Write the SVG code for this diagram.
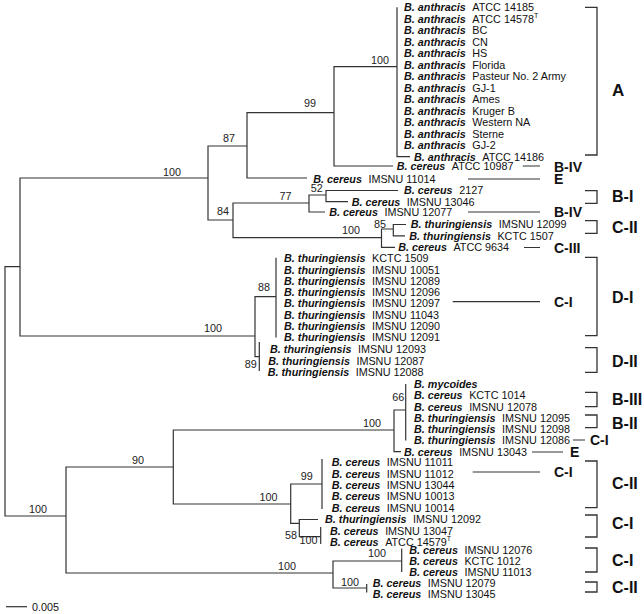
<svg xmlns="http://www.w3.org/2000/svg" width="644" height="614" viewBox="0 0 644 614">
<style>
.br{fill:none;stroke:#333;stroke-width:1.2}
.bk{fill:none;stroke:#333;stroke-width:1.3}
text{font-family:"Liberation Sans",Arial,sans-serif;fill:#111}
.lf{font-size:10.8px}
.sp{font-weight:bold;font-style:italic}
.bs{font-size:10.8px;text-anchor:middle;fill:#222}
.gm{font-size:14px;font-weight:bold}
.gr{font-size:16px;font-weight:bold}
.sup{font-size:7px}
</style>
<rect width="644" height="614" fill="#fff"/>
<g id="connectors" class="br">
<path d="M20,266.7H5V516H66"/>
<path d="M208,178H20V336H255"/>
<path d="M247,146H208V220H233"/>
<path d="M334,112.7H247V178H307"/>
<path d="M397,66.7H334V166H393"/>
<path d="M397,7.3V156.7H410"/>
<path d="M309,203H233V237.7H381.5"/>
<path d="M326,195H309V212H325"/>
<path d="M398,190.5H326V201.7H348"/>
<path d="M393.3,229H381.5V247.3H395"/>
<path d="M406,224.5H393.3V235.8H405"/>
<path d="M276,296.7H255V356.7H259.3"/>
<path d="M276,257.7V337.5"/>
<path d="M259.3,342V371"/>
<path d="M173.3,467H66V573H333"/>
<path d="M394,430H173.3V504H290.7"/>
<path d="M405.7,410H394V451.7H401"/>
<path d="M405.7,384V440.5"/>
<path d="M322,484H290.7V523.3H299.3"/>
<path d="M322,459V509"/>
<path d="M318,519.5H299.3V536.7H320.7"/>
<path d="M320.7,527V544"/>
<path d="M401.7,561H333V588H366.7"/>
<path d="M401.7,548.5V572"/>
<path d="M366.7,584V592.5"/>
<path d="M522.7,166H540M468,179H540M468,212H540M524,247.5H540M452.7,301.7H540M573,440H585M532,452H563M472.7,472H540"/>
<path d="M6,606.7H27"/>
</g>
<g id="brackets" class="bk">
<path d="M585,7.3H597V155H585"/>
<path d="M585,190.7H597V203.3H585"/>
<path d="M585,220.7H597V233.3H585"/>
<path d="M585,257.3H597V335.7H585"/>
<path d="M585,347.7H597V372.3H585"/>
<path d="M585,392.3H597V406.7H585"/>
<path d="M585,415H597V427.7H585"/>
<path d="M585,461H597V507.7H585"/>
<path d="M585,515H597V537H585"/>
<path d="M585,548H597V572H585"/>
<path d="M585,582H597V592H585"/>
</g>
<g id="bootstrap">
<text class="bs" x="380" y="64.4">100</text>
<text class="bs" x="310" y="107">99</text>
<text class="bs" x="229" y="142">87</text>
<text class="bs" x="172" y="176">100</text>
<text class="bs" x="223" y="215">84</text>
<text class="bs" x="285.5" y="200.2">77</text>
<text class="bs" x="316.8" y="192">52</text>
<text class="bs" x="380" y="227.6">85</text>
<text class="bs" x="351" y="234">100</text>
<text class="bs" x="264" y="291">88</text>
<text class="bs" x="213" y="332">100</text>
<text class="bs" x="250.7" y="368">89</text>
<text class="bs" x="398.3" y="401.3">66</text>
<text class="bs" x="372" y="426.9">100</text>
<text class="bs" x="138" y="464">90</text>
<text class="bs" x="268.5" y="500.9">100</text>
<text class="bs" x="306.7" y="480.2">99</text>
<text class="bs" x="291" y="538.9">58</text>
<text class="bs" x="308.5" y="544.2">100</text>
<text class="bs" x="38" y="513">100</text>
<text class="bs" x="287" y="569.6">100</text>
<text class="bs" x="377" y="556.9">100</text>
<text class="bs" x="350" y="585.9">100</text>
<text class="lf" x="32" y="610.6">0.005</text>
</g>
<g id="leaf-ba-14185"><text class="lf" x="404" y="11.2"><tspan class="sp">B. anthracis</tspan><tspan dx="6.5">ATCC 14185</tspan></text></g>
<g id="leaf-ba-14578"><text class="lf" x="404" y="22.7"><tspan class="sp">B. anthracis</tspan><tspan dx="6.5">ATCC 14578</tspan><tspan class="sup" dy="-4.5">T</tspan></text></g>
<g id="leaf-ba-bc"><text class="lf" x="404" y="34.2"><tspan class="sp">B. anthracis</tspan><tspan dx="6.5">BC</tspan></text></g>
<g id="leaf-ba-cn"><text class="lf" x="404" y="45.7"><tspan class="sp">B. anthracis</tspan><tspan dx="6.5">CN</tspan></text></g>
<g id="leaf-ba-hs"><text class="lf" x="404" y="57.2"><tspan class="sp">B. anthracis</tspan><tspan dx="6.5">HS</tspan></text></g>
<g id="leaf-ba-florida"><text class="lf" x="404" y="68.7"><tspan class="sp">B. anthracis</tspan><tspan dx="6.5">Florida</tspan></text></g>
<g id="leaf-ba-pasteur"><text class="lf" x="404" y="80.1"><tspan class="sp">B. anthracis</tspan><tspan dx="6.5">Pasteur No. 2 Army</tspan></text></g>
<g id="leaf-ba-gj1"><text class="lf" x="404" y="91.6"><tspan class="sp">B. anthracis</tspan><tspan dx="6.5">GJ-1</tspan></text></g>
<g id="leaf-ba-ames"><text class="lf" x="404" y="103.1"><tspan class="sp">B. anthracis</tspan><tspan dx="6.5">Ames</tspan></text></g>
<g id="leaf-ba-kruger"><text class="lf" x="404" y="114.6"><tspan class="sp">B. anthracis</tspan><tspan dx="6.5">Kruger B</tspan></text></g>
<g id="leaf-ba-western"><text class="lf" x="404" y="126.1"><tspan class="sp">B. anthracis</tspan><tspan dx="6.5">Western NA</tspan></text></g>
<g id="leaf-ba-sterne"><text class="lf" x="404" y="137.6"><tspan class="sp">B. anthracis</tspan><tspan dx="6.5">Sterne</tspan></text></g>
<g id="leaf-ba-gj2"><text class="lf" x="404" y="149.1"><tspan class="sp">B. anthracis</tspan><tspan dx="6.5">GJ-2</tspan></text></g>
<g id="leaf-ba-14186"><text class="lf" x="414" y="160.6"><tspan class="sp">B. anthracis</tspan><tspan dx="6.5">ATCC 14186</tspan></text></g>
<g id="leaf-bc-10987"><text class="lf" x="396.7" y="169.9"><tspan class="sp">B. cereus</tspan><tspan dx="6.5">ATCC 10987</tspan></text></g>
<g id="leaf-bc-11014"><text class="lf" x="313.3" y="182.9"><tspan class="sp">B. cereus</tspan><tspan dx="6.5">IMSNU 11014</tspan></text></g>
<g id="leaf-bc-2127"><text class="lf" x="404" y="194.4"><tspan class="sp">B. cereus</tspan><tspan dx="6.5">2127</tspan></text></g>
<g id="leaf-bc-13046"><text class="lf" x="351.7" y="205.6"><tspan class="sp">B. cereus</tspan><tspan dx="6.5">IMSNU 13046</tspan></text></g>
<g id="leaf-bc-12077"><text class="lf" x="329.3" y="215.9"><tspan class="sp">B. cereus</tspan><tspan dx="6.5">IMSNU 12077</tspan></text></g>
<g id="leaf-bt-12099"><text class="lf" x="410.7" y="228.4"><tspan class="sp">B. thuringiensis</tspan><tspan dx="6.5">IMSNU 12099</tspan></text></g>
<g id="leaf-bt-1507"><text class="lf" x="409.3" y="239.7"><tspan class="sp">B. thuringiensis</tspan><tspan dx="6.5">KCTC 1507</tspan></text></g>
<g id="leaf-bc-9634"><text class="lf" x="398.3" y="251.2"><tspan class="sp">B. cereus</tspan><tspan dx="6.5">ATCC 9634</tspan></text></g>
<g id="leaf-bt-1509"><text class="lf" x="284" y="262.4"><tspan class="sp">B. thuringiensis</tspan><tspan dx="6.5">KCTC 1509</tspan></text></g>
<g id="leaf-bt-10051"><text class="lf" x="284" y="273.65"><tspan class="sp">B. thuringiensis</tspan><tspan dx="6.5">IMSNU 10051</tspan></text></g>
<g id="leaf-bt-12089"><text class="lf" x="284" y="284.9"><tspan class="sp">B. thuringiensis</tspan><tspan dx="6.5">IMSNU 12089</tspan></text></g>
<g id="leaf-bt-12096"><text class="lf" x="284" y="296.15"><tspan class="sp">B. thuringiensis</tspan><tspan dx="6.5">IMSNU 12096</tspan></text></g>
<g id="leaf-bt-12097"><text class="lf" x="284" y="307.4"><tspan class="sp">B. thuringiensis</tspan><tspan dx="6.5">IMSNU 12097</tspan></text></g>
<g id="leaf-bt-11043"><text class="lf" x="284" y="318.65"><tspan class="sp">B. thuringiensis</tspan><tspan dx="6.5">IMSNU 11043</tspan></text></g>
<g id="leaf-bt-12090"><text class="lf" x="284" y="329.9"><tspan class="sp">B. thuringiensis</tspan><tspan dx="6.5">IMSNU 12090</tspan></text></g>
<g id="leaf-bt-12091"><text class="lf" x="284" y="341.15"><tspan class="sp">B. thuringiensis</tspan><tspan dx="6.5">IMSNU 12091</tspan></text></g>
<g id="leaf-bt-12093"><text class="lf" x="270" y="353.2"><tspan class="sp">B. thuringiensis</tspan><tspan dx="6.5">IMSNU 12093</tspan></text></g>
<g id="leaf-bt-12087"><text class="lf" x="268.3" y="364.6"><tspan class="sp">B. thuringiensis</tspan><tspan dx="6.5">IMSNU 12087</tspan></text></g>
<g id="leaf-bt-12088"><text class="lf" x="267.7" y="375.9"><tspan class="sp">B. thuringiensis</tspan><tspan dx="6.5">IMSNU 12088</tspan></text></g>
<g id="leaf-bm"><text class="lf" x="414" y="387.9"><tspan class="sp">B. mycoides</tspan></text></g>
<g id="leaf-bc-1014"><text class="lf" x="414" y="399.2"><tspan class="sp">B. cereus</tspan><tspan dx="6.5">KCTC 1014</tspan></text></g>
<g id="leaf-bc-12078"><text class="lf" x="414" y="410.5"><tspan class="sp">B. cereus</tspan><tspan dx="6.5">IMSNU 12078</tspan></text></g>
<g id="leaf-bt-12095"><text class="lf" x="414" y="421.7"><tspan class="sp">B. thuringiensis</tspan><tspan dx="6.5">IMSNU 12095</tspan></text></g>
<g id="leaf-bt-12098"><text class="lf" x="414" y="433"><tspan class="sp">B. thuringiensis</tspan><tspan dx="6.5">IMSNU 12098</tspan></text></g>
<g id="leaf-bt-12086"><text class="lf" x="414" y="444.3"><tspan class="sp">B. thuringiensis</tspan><tspan dx="6.5">IMSNU 12086</tspan></text></g>
<g id="leaf-bc-13043"><text class="lf" x="404" y="455.6"><tspan class="sp">B. cereus</tspan><tspan dx="6.5">IMSNU 13043</tspan></text></g>
<g id="leaf-bc-11011"><text class="lf" x="331.7" y="466.4"><tspan class="sp">B. cereus</tspan><tspan dx="6.5">IMSNU 11011</tspan></text></g>
<g id="leaf-bc-11012"><text class="lf" x="331.7" y="477.7"><tspan class="sp">B. cereus</tspan><tspan dx="6.5">IMSNU 11012</tspan></text></g>
<g id="leaf-bc-13044"><text class="lf" x="331.7" y="489"><tspan class="sp">B. cereus</tspan><tspan dx="6.5">IMSNU 13044</tspan></text></g>
<g id="leaf-bc-10013"><text class="lf" x="331.7" y="500.3"><tspan class="sp">B. cereus</tspan><tspan dx="6.5">IMSNU 10013</tspan></text></g>
<g id="leaf-bc-10014"><text class="lf" x="331.7" y="511.6"><tspan class="sp">B. cereus</tspan><tspan dx="6.5">IMSNU 10014</tspan></text></g>
<g id="leaf-bt-12092"><text class="lf" x="325" y="523.4"><tspan class="sp">B. thuringiensis</tspan><tspan dx="6.5">IMSNU 12092</tspan></text></g>
<g id="leaf-bc-13047"><text class="lf" x="330" y="534.9"><tspan class="sp">B. cereus</tspan><tspan dx="6.5">IMSNU 13047</tspan></text></g>
<g id="leaf-bc-14579"><text class="lf" x="330" y="545.9"><tspan class="sp">B. cereus</tspan><tspan dx="6.5">ATCC 14579</tspan><tspan class="sup" dy="-4.5">T</tspan></text></g>
<g id="leaf-bc-12076"><text class="lf" x="409.3" y="554.4"><tspan class="sp">B. cereus</tspan><tspan dx="6.5">IMSNU 12076</tspan></text></g>
<g id="leaf-bc-1012"><text class="lf" x="409.3" y="564.9"><tspan class="sp">B. cereus</tspan><tspan dx="6.5">KCTC 1012</tspan></text></g>
<g id="leaf-bc-11013"><text class="lf" x="409.3" y="575.9"><tspan class="sp">B. cereus</tspan><tspan dx="6.5">IMSNU 11013</tspan></text></g>
<g id="leaf-bc-12079"><text class="lf" x="372.7" y="586.9"><tspan class="sp">B. cereus</tspan><tspan dx="6.5">IMSNU 12079</tspan></text></g>
<g id="leaf-bc-13045"><text class="lf" x="372.7" y="598.2"><tspan class="sp">B. cereus</tspan><tspan dx="6.5">IMSNU 13045</tspan></text></g>
<g id="labels-mid">
<text class="gm" x="554" y="171.7">B-IV</text>
<text class="gm" x="554" y="184">E</text>
<text class="gm" x="554" y="216.7">B-IV</text>
<text class="gm" x="554" y="252.7">C-III</text>
<text class="gm" x="554" y="306.7">C-I</text>
<text class="gm" x="590" y="445">C-I</text>
<text class="gm" x="570" y="457">E</text>
<text class="gm" x="554" y="477">C-I</text>
</g>
<g id="labels-right">
<text class="gr" x="612" y="96" style="font-size:17px">A</text>
<text class="gr" x="612" y="202.4">B-I</text>
<text class="gr" x="612" y="232.7">C-II</text>
<text class="gr" x="612" y="302.7">D-I</text>
<text class="gr" x="612" y="367.4">D-II</text>
<text class="gr" x="612" y="404.7">B-III</text>
<text class="gr" x="612" y="428.7">B-II</text>
<text class="gr" x="612" y="488.7">C-II</text>
<text class="gr" x="612" y="528.7">C-I</text>
<text class="gr" x="612" y="565.7">C-I</text>
<text class="gr" x="612" y="592.7">C-II</text>
</g>
</svg>
